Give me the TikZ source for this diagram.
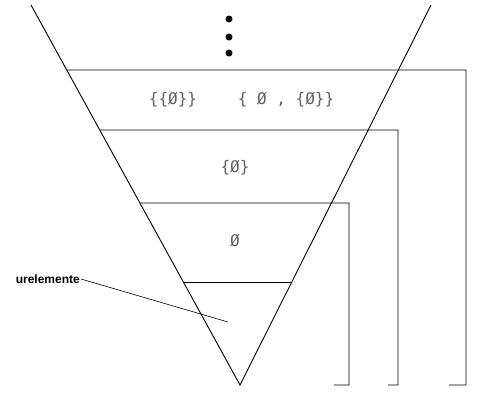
\documentclass[tikz,border=0pt]{standalone}
\usepackage{fontspec}
\newfontfamily\setfont{DejaVu Sans Mono}
\newfontfamily\lblfont{Liberation Sans}
\usetikzlibrary{calc}
\tikzset{
  rank/.style  ={line width=0.9pt},
  brk/.style   ={line width=0.9pt},
  setlbl/.style={font=\setfont\fontsize{16}{18}\selectfont, text=black!62, inner sep=0pt},
  dot/.style   ={circle, fill, inner sep=0pt, minimum size=7pt},
  lbl/.style   ={font=\lblfont\bfseries\fontsize{12}{14}\selectfont, inner sep=1pt},
  lead/.style  ={line width=0.6pt},
}

\begin{document}
\begin{tikzpicture}[x=1pt,y=-1pt]
  \useasboundingbox (0,0) rectangle (493,394);
  \coordinate (tl) at (31,5);
  \coordinate (tr) at (431,5);
  \coordinate (apex) at (240,385);
  \draw[rank] (tl) -- (apex) -- (tr);

  \foreach \y [count=\i] in {19,37,53}{\node[dot] (d\i) at (229,\y) {};}

  % ranks with their brackets
  \coordinate (l1) at ($(tl)!0.171!(apex)$);
  \coordinate (l2) at ($(tl)!0.329!(apex)$);
  \coordinate (l3) at ($(tl)!0.521!(apex)$);
  \coordinate (l4) at ($(tl)!0.729!(apex)$);
  \coordinate (r4) at ($(tr)!0.729!(apex)$);
  \draw[brk] (l1) -- (466,70) -- (466,385) -- (449,385);
  \draw[brk] (l2) -- (398,130) -- (398,385) -- (388,385);
  \draw[brk] (l3) -- (349,203) -- (349,385) -- (334,385);
  \draw[rank] (l4) -- (r4);

  \node[setlbl] (v3a) at (173,100) {\{\{Ø\}\}};
  \node[setlbl] (v3b) at (286,100) {\{ Ø , \{Ø\}\}};
  \node[setlbl] (v2) at (235,168) {\{Ø\}};
  \node[setlbl] (v1) at (235,241) {Ø};

  \node[lbl, anchor=east] (ure) at (81,279) {urelemente};
  \coordinate (ur) at (228,322);
  \draw[lead] (ure.east) -- (ur);
\end{tikzpicture}
\end{document}
